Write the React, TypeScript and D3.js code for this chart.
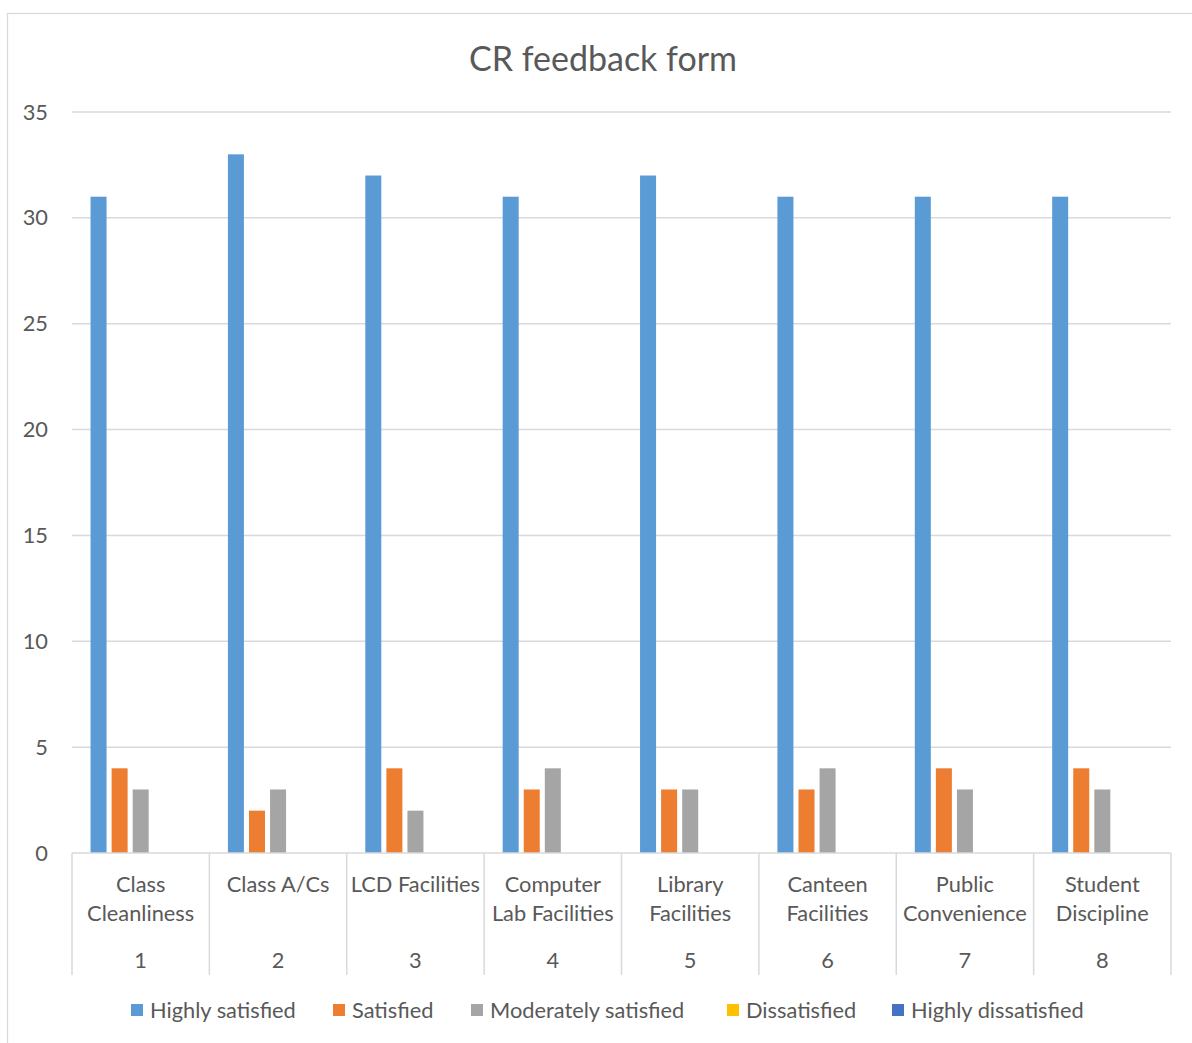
import React from "react";
import * as d3 from "d3";

const categories = ["Class Cleanliness", "Class A/Cs", "LCD Facilities", "Computer Lab Facilities", "Library Facilities", "Canteen Facilities", "Public Convenience", "Student Discipline"];
const categoryLines = [["Class", "Cleanliness"], ["Class A/Cs"], ["LCD Facilities"], ["Computer", "Lab Facilities"], ["Library", "Facilities"], ["Canteen", "Facilities"], ["Public", "Convenience"], ["Student", "Discipline"]];
const categoryNumbers = ["1", "2", "3", "4", "5", "6", "7", "8"];
const seriesNames = ["Highly satisfied", "Satisfied", "Moderately satisfied", "Dissatisfied", "Highly dissatisfied"];
const highlySatisfied = [31, 33, 32, 31, 32, 31, 31, 31];
const satisfied = [4, 2, 4, 3, 3, 3, 4, 4];
const moderatelySatisfied = [3, 3, 2, 4, 3, 4, 3, 3];
const dissatisfied = [0, 0, 0, 0, 0, 0, 0, 0];
const highlyDissatisfied = [0, 0, 0, 0, 0, 0, 0, 0];
const yTicks = [0, 5, 10, 15, 20, 25, 30, 35];
const colors = ["#5B9BD5", "#ED7D31", "#A5A5A5", "#FFC000", "#4472C4"];

const W = 1192, H = 1043;
const plotL = 72, plotR = 1171, plotT = 112, plotB = 853;
const FONT = "Lato, 'Open Sans', sans-serif";
const TXT = "#595959";
const FS = 21.8;

export default function App() {
  const series = [highlySatisfied, satisfied, moderatelySatisfied, dissatisfied, highlyDissatisfied];
  const x = d3.scaleBand<number>().domain(d3.range(categories.length)).range([plotL, plotR]).paddingInner(0).paddingOuter(0);
  const y = d3.scaleLinear().domain([0, 35]).range([plotB, plotT]);
  const bw = x.bandwidth();
  const groupW = bw * 0.73;
  const inner = d3.scaleBand<number>().domain(d3.range(series.length)).range([0, groupW]).paddingInner(0.24);
  const groupOffset = (bw - groupW) / 2;
  const legendItems = [
    { x: 131, textX: 150 },
    { x: 333, textX: 352 },
    { x: 471, textX: 490 },
    { x: 727, textX: 746 },
    { x: 892, textX: 911 },
  ];
  return (
    <svg width={W} height={H} style={{ position: "absolute", left: 0, top: 0, background: "#fff" }} fontFamily={FONT}>
      <rect x={7.5} y={13.5} width={1200} height={1100} fill="#fff" stroke="#D9D9D9" strokeWidth={1.3} />
      <text x={603} y={57} textAnchor="middle" dominantBaseline="central" fontSize={34} fill={TXT}>CR feedback form</text>
      {yTicks.map((t) => (
        <g key={t}>
          {t > 0 && <line x1={plotL} x2={plotR} y1={y(t)} y2={y(t)} stroke="#D9D9D9" strokeWidth={1.5} />}
          <text x={48} y={y(t) - 1} textAnchor="end" dominantBaseline="central" fontSize={FS} fill={TXT}>{t}</text>
        </g>
      ))}
      {series.map((vals, si) => (
        <g key={si} fill={colors[si]}>
          {vals.map((v, ci) => (
            v > 0 ? <rect key={ci} x={(x(ci) as number) + groupOffset + (inner(si) as number)} y={y(v)} width={inner.bandwidth()} height={y(0) - y(v)} /> : null
          ))}
        </g>
      ))}
      <line x1={plotL} x2={plotR} y1={plotB} y2={plotB} stroke="#D9D9D9" strokeWidth={1.5} />
      {d3.range(categories.length + 1).map((i) => {
        const xx = i < categories.length ? (x(i) as number) : plotR;
        return <line key={i} x1={xx} x2={xx} y1={plotB} y2={975} stroke="#D9D9D9" strokeWidth={1.5} />;
      })}
      {categoryLines.map((lines, ci) => (
        <g key={ci}>
          {lines.map((ln, li) => (
            <text key={li} x={(x(ci) as number) + bw / 2} y={883 + li * 29} textAnchor="middle" dominantBaseline="central" fontSize={FS} fill={TXT}>{ln}</text>
          ))}
          <text x={(x(ci) as number) + bw / 2} y={959} textAnchor="middle" dominantBaseline="central" fontSize={FS} fill={TXT}>{categoryNumbers[ci]}</text>
        </g>
      ))}
      {seriesNames.map((n, i) => (
        <g key={n}>
          <rect x={legendItems[i].x} y={1004} width={12} height={12} fill={colors[i]} />
          <text x={legendItems[i].textX} y={1009} dominantBaseline="central" fontSize={FS} fill={TXT}>{n}</text>
        </g>
      ))}
    </svg>
  );
}
